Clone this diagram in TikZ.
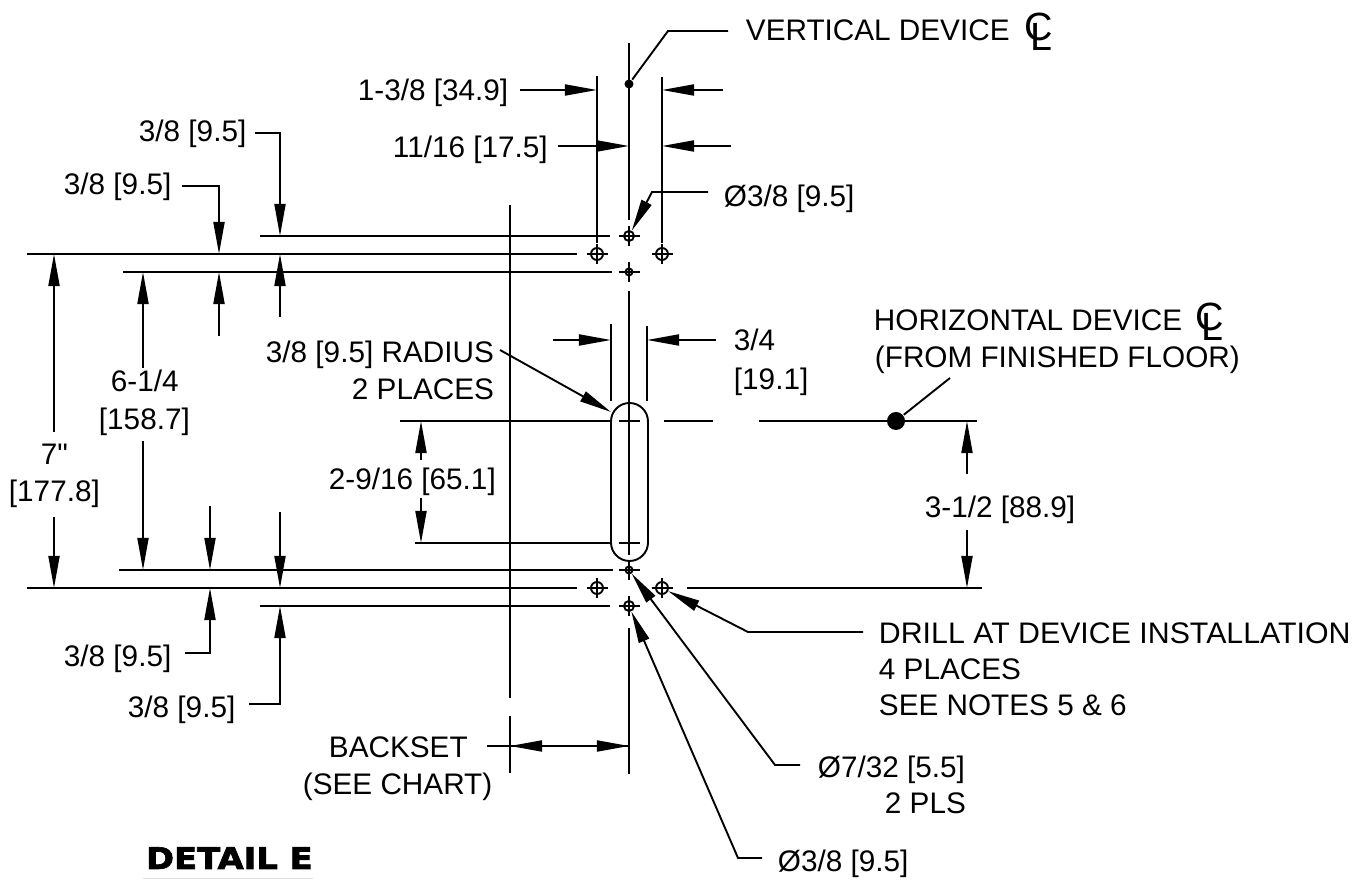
\documentclass[tikz,border=0pt]{standalone}
\usepackage{fontspec}
\setmainfont{Liberation Sans}
\newfontfamily\rawfont{Liberation Sans}
\newfontfamily\detailfont[BoldFeatures={FakeBold=2.2}]{DejaVu Sans}
\usetikzlibrary{arrows.meta}
\newcommand{\centerln}{{\fontsize{11.2pt}{11pt}\selectfont\rlap{C}\kern1.7pt\raisebox{-2.6pt}{L}}}
\tikzset{
  lbl/.style={anchor=base west,inner sep=0pt,font=\fontsize{8.45pt}{10pt}\selectfont},
  ptr/.style={-{Triangle[length=.32cm,width=.11cm]}},
  hole/.style={circle,draw,inner sep=0pt,minimum size=#1},
  dot/.style={circle,fill,inner sep=0pt,minimum size=#1}
}
\begin{document}
\begin{tikzpicture}[x=.01cm,y=-.01cm,line width=.019cm]
  \useasboundingbox (0,0) rectangle (1359,880);
  % holes
  \node[hole=.10cm] (htop) at (629,236) {};
  \node[hole=.07cm] (hup) at (629,272) {};
  \node[hole=.12cm] (hul) at (597,254) {};
  \node[hole=.12cm] (hur) at (662,254) {};
  \node[hole=.07cm] (hlow) at (629,570) {};
  \node[hole=.10cm] (hbot) at (629,606) {};
  \node[hole=.12cm] (hll) at (597,588) {};
  \node[hole=.12cm] (hlr) at (662,588) {};
  \coordinate (slotc) at (629,543);
  \coordinate (slott) at (629,421);
  \foreach \h in {htop,hup,hul,hur,hlow,hbot,hll,hlr,slotc,slott}
    \draw (\h.center) ++(-10.5,0) -- ++(21,0) (\h.center) ++(0,-10) -- ++(0,20);
  % slot and device centre dots
  \draw[rounded corners=.185cm] (611,403) rectangle (648,561);
  \node[dot=.09cm] (vdot) at (629,84) {};
  \node[dot=.18cm] (hdot) at (896,421) {};
  % centre lines and extension lines
  \draw (629,43) -- (629,220);
  \draw (629,291) -- (629,555);
  \draw (629,628) -- (629,774);
  \draw (597,76) -- (597,243);
  \draw (662,77) -- (662,243);
  \draw (611,324) -- (611,401);
  \draw (647,326) -- (647,401);
  \draw (510,205) -- (510,698);
  \draw (510,716) -- (510,773);
  \draw (260,236) -- (610,236);
  \draw (27,254) -- (577,254);
  \draw (123,272) -- (612,272);
  \draw (119,570) -- (613,570);
  \draw (27,588) -- (577,588);
  \draw (687,588) -- (982,588);
  \draw (260,606) -- (610,606);
  \draw (400,421) -- (612,421);
  \draw (664,421) -- (713,421);
  \draw (759,421) -- (977,421);
  \draw (415,543) -- (612,543);
  % dimension arrows
  \begin{scope}[ptr]
    \draw (520,90) -- (597,90);
    \draw (723,90) -- (662,90);
    \draw (558,146) -- (629,146);
    \draw (731,146) -- (662,146);
    \draw (255,133) -- (280,133) -- (280,236);
    \draw (182,186) -- (219,186) -- (219,254);
    \draw (54,432) -- (54,254);
    \draw (143,368) -- (143,272);
    \draw (219,336) -- (219,272);
    \draw (280,317) -- (280,254);
    \draw (54,517) -- (54,588);
    \draw (143,441) -- (143,570);
    \draw (210,506) -- (210,570);
    \draw (280,512) -- (280,588);
    \draw (185,653) -- (210,653) -- (210,588);
    \draw (249,704) -- (280,704) -- (280,606);
    \draw (553,340) -- (611,340);
    \draw (716,340) -- (647,340);
    \draw (421,460) -- (421,421);
    \draw (421,498) -- (421,543);
    \draw (967,474) -- (967,421);
    \draw (967,530) -- (967,588);
    \draw (487,746) -- (629,746);
    \draw (629,746) -- (510,746);
    \draw (500,350) -- (611,412);
    \draw (708,192) -- (652,192) -- (htop);
    \draw (762,858) -- (738,858) -- (hbot);
    \draw (800,765) -- (775,765) -- (hlow);
    \draw (863,632) -- (748,632) -- (hlr);
  \end{scope}
  \draw (728,31) -- (668,31) -- (vdot);
  \draw (950,378) -- (hdot);
  % labels
  \node[lbl] (lvert) at (745,41) {VERTICAL DEVICE\hspace{.5em}\centerln};
  \node[lbl] (la) at (357,101) {1-3/8 [34.9]};
  \node[lbl] (lb) at (392,158) {11/16 [17.5]};
  \node[lbl] (lc) at (138,142) {3/8 [9.5]};
  \node[lbl] (ld) at (63,195) {3/8 [9.5]};
  \node[lbl] (le) at (723,207) {Ø3/8 [9.5]};
  \node[lbl] (lrad1) at (265,363) {3/8 [9.5] RADIUS};
  \node[lbl] (lrad2) at (351,400) {2 PLACES};
  \node[lbl] (lw1) at (733,351) {3/4};
  \node[lbl] (lw2) at (733,390) {[19.1]};
  \node[lbl] (lhor1) at (873,331) {HORIZONTAL DEVICE\hspace{.45em}\centerln};
  \node[lbl] (lhor2) at (874,368) {(FROM FINISHED FLOOR)};
  \node[lbl] (lf1) at (110,392) {6-1/4};
  \node[lbl] (lf2) at (98,430) {[158.7]};
  \node[lbl] (ls1) at (40,465) {7{\rawfont"}};
  \node[lbl] (ls2) at (8,502) {[177.8]};
  \node[lbl] (lg) at (328,490) {2-9/16 [65.1]};
  \node[lbl] (lh) at (924,518) {3-1/2 [88.9]};
  \node[lbl] (li) at (63,667) {3/8 [9.5]};
  \node[lbl] (lj) at (127,718) {3/8 [9.5]};
  \node[lbl,xscale=1.02] (ldr1) at (878,644) {DRILL AT DEVICE INSTALLATION};
  \node[lbl] (ldr2) at (878,680) {4 PLACES};
  \node[lbl] (ldr3) at (878,716) {SEE NOTES 5 \& 6};
  \node[lbl] (lb1) at (328,758) {BACKSET};
  \node[lbl] (lb2) at (302,795) {(SEE CHART)};
  \node[lbl] (lk1) at (817,778) {Ø7/32 [5.5]};
  \node[lbl] (lk2) at (884,814) {2 PLS};
  \node[lbl] (lm) at (777,872) {Ø3/8 [9.5]};
  \node[lbl,font=\detailfont\bfseries\fontsize{8.5pt}{10pt}\selectfont,xscale=1.13] (ldet) at (145,869) {DETAIL E};
  \draw[black!12,line width=.01cm] (143,879) -- (313,879);
\end{tikzpicture}
\end{document}
